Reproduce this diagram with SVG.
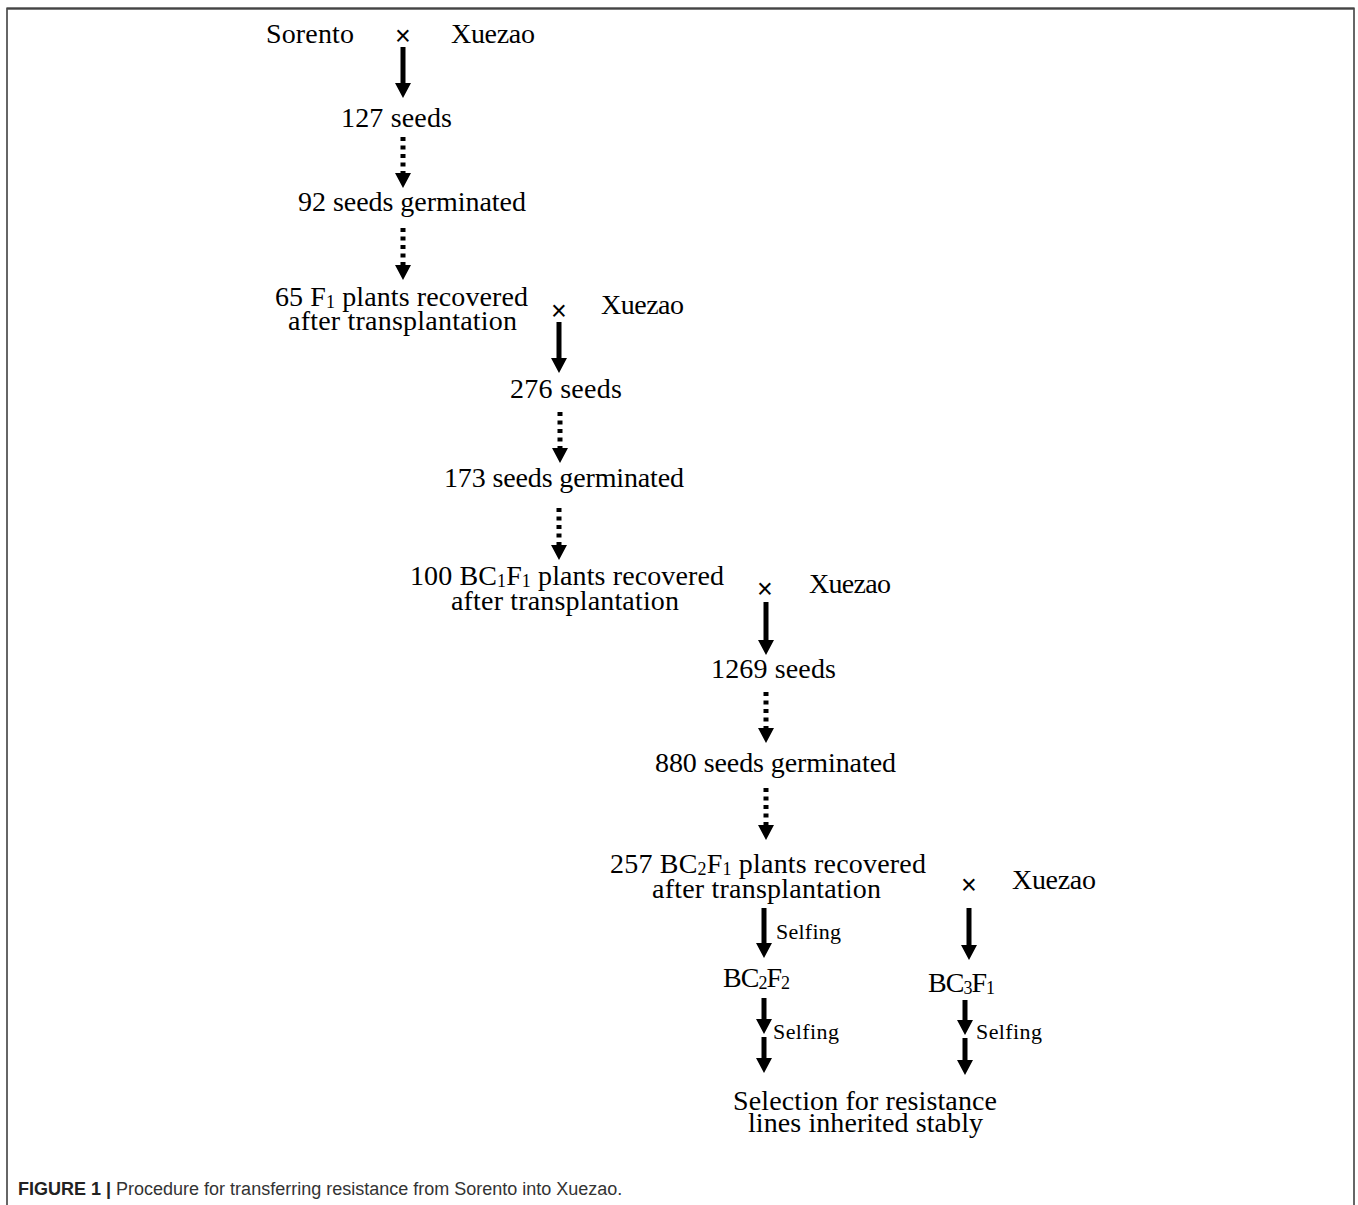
<svg xmlns="http://www.w3.org/2000/svg" width="1358" height="1205" viewBox="0 0 1358 1205">
<style>
.t{font-family:"Liberation Serif","Times New Roman",serif;font-size:28px;fill:#000}
.s{font-family:"Liberation Serif","Times New Roman",serif;font-size:22px;fill:#000}
.x{font-family:"Liberation Sans",Arial,sans-serif;font-size:27px;fill:#000;text-anchor:middle}
.solid{stroke:#000;stroke-width:5;fill:none;marker-end:url(#head)}
.dot{stroke:#000;stroke-width:5;fill:none;stroke-dasharray:4 4.5;marker-end:url(#head)}
.cap{font-family:"Liberation Sans",Arial,sans-serif;font-size:18px;fill:#333}
</style>
<defs>
<marker id="head" viewBox="0 0 15 16" refX="0" refY="8" markerWidth="15" markerHeight="16" markerUnits="userSpaceOnUse" orient="auto">
<path d="M0,0 L15,8 L0,16 z" fill="#000"/>
</marker>
</defs>
<rect x="0" y="0" width="1358" height="1205" fill="#fff"/>
<path d="M7,1205 V8.5 H1354 V1205" fill="none" stroke="#666" stroke-width="2"/>
<path d="M7,8.5 H1354" fill="none" stroke="#444" stroke-width="2"/>

<g id="connectors">
<line class="solid" x1="403" y1="47" x2="403" y2="83"/>
<line class="dot" x1="403" y1="137" x2="403" y2="173"/>
<line class="dot" x1="403" y1="228" x2="403" y2="265"/>
<line class="solid" x1="559" y1="322" x2="559" y2="358"/>
<line class="dot" x1="560" y1="412" x2="560" y2="448"/>
<line class="dot" x1="559" y1="508" x2="559" y2="545"/>
<line class="solid" x1="766" y1="602" x2="766" y2="640"/>
<line class="dot" x1="766" y1="692" x2="766" y2="728"/>
<line class="dot" x1="766" y1="788" x2="766" y2="825"/>
<line class="solid" x1="764" y1="908" x2="764" y2="943"/>
<line class="solid" x1="969" y1="908" x2="969" y2="945"/>
<line class="solid" x1="764" y1="998" x2="764" y2="1019"/>
<line class="solid" x1="764" y1="1037" x2="764" y2="1058"/>
<line class="solid" x1="965" y1="1000" x2="965" y2="1020"/>
<line class="solid" x1="965" y1="1038" x2="965" y2="1060"/>
</g>

<g id="cross1">
<text class="t" x="266" y="43" textLength="88">Sorento</text>
<text class="x" x="403" y="45">×</text>
<text class="t" x="451" y="43" textLength="84">Xuezao</text>
</g>
<g id="n-127"><text class="t" x="341" y="127" textLength="111">127 seeds</text></g>
<g id="n-92"><text class="t" x="298" y="211" textLength="228">92 seeds germinated</text></g>
<g id="n-65">
<text class="t" x="275" y="306" textLength="253">65 F<tspan font-size="18" dy="2">1</tspan><tspan dy="-2"> plants recovered</tspan></text>
<text class="t" x="288" y="330" textLength="229">after transplantation</text>
</g>
<g id="cross2">
<text class="x" x="559" y="320">×</text>
<text class="t" x="601" y="314" textLength="83">Xuezao</text>
</g>
<g id="n-276"><text class="t" x="510" y="398" textLength="112">276 seeds</text></g>
<g id="n-173"><text class="t" x="444" y="487" textLength="240">173 seeds germinated</text></g>
<g id="n-100">
<text class="t" x="410" y="585" textLength="314">100 BC<tspan font-size="18" dy="2">1</tspan><tspan dy="-2">F</tspan><tspan font-size="18" dy="2">1</tspan><tspan dy="-2">  plants recovered</tspan></text>
<text class="t" x="451" y="610" textLength="228">after transplantation</text>
</g>
<g id="cross3">
<text class="x" x="765" y="598">×</text>
<text class="t" x="809" y="593" textLength="82">Xuezao</text>
</g>
<g id="n-1269"><text class="t" x="711" y="678" textLength="125">1269  seeds</text></g>
<g id="n-880"><text class="t" x="655" y="772" textLength="241">880 seeds germinated</text></g>
<g id="n-257">
<text class="t" x="610" y="873" textLength="316">257 BC<tspan font-size="18" dy="2">2</tspan><tspan dy="-2">F</tspan><tspan font-size="18" dy="2">1</tspan><tspan dy="-2">  plants recovered</tspan></text>
<text class="t" x="652" y="898" textLength="229">after transplantation</text>
</g>
<g id="cross4">
<text class="x" x="969" y="894">×</text>
<text class="t" x="1012" y="889" textLength="84">Xuezao</text>
</g>
<g id="lbl-selfing1"><text class="s" x="776" y="939" textLength="65">Selfing</text></g>
<g id="n-bc2f2"><text class="t" x="723" y="987" textLength="67">BC<tspan font-size="18" dy="2">2</tspan><tspan dy="-2">F</tspan><tspan font-size="18" dy="2">2</tspan></text></g>
<g id="n-bc3f1"><text class="t" x="928" y="992" textLength="67">BC<tspan font-size="18" dy="2">3</tspan><tspan dy="-2">F</tspan><tspan font-size="18" dy="2">1</tspan></text></g>
<g id="lbl-selfing2"><text class="s" x="773" y="1039" textLength="66">Selfing</text></g>
<g id="lbl-selfing3"><text class="s" x="976" y="1039" textLength="66">Selfing</text></g>
<g id="n-selection">
<text class="t" x="733" y="1110" textLength="264">Selection for resistance</text>
<text class="t" x="748" y="1132" textLength="235">lines inherited stably</text>
</g>
<g id="caption">
<text class="cap" x="18" y="1195"><tspan font-weight="bold" fill="#222">FIGURE 1 |</tspan> Procedure for transferring resistance from Sorento into Xuezao.</text>
</g>
</svg>
